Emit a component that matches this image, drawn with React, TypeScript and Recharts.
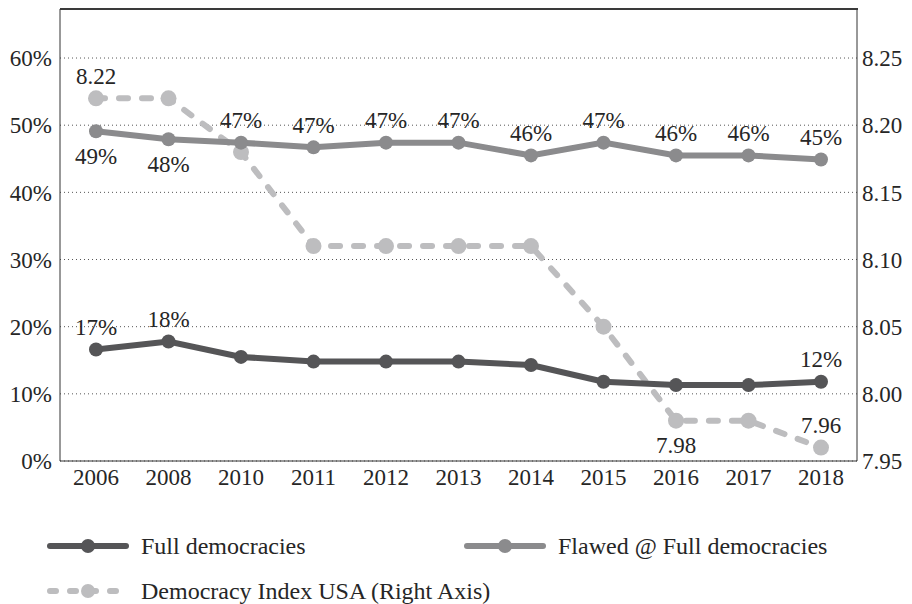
import { LineChart, Line, XAxis, YAxis, CartesianGrid, Legend } from 'recharts';

const years = ['2006', '2008', '2010', '2011', '2012', '2013', '2014', '2015', '2016', '2017', '2018'];
const fullDemocracies = [0.166, 0.178, 0.155, 0.148, 0.148, 0.148, 0.143, 0.118, 0.113, 0.113, 0.118];
const flawedFull = [0.491, 0.479, 0.474, 0.467, 0.474, 0.474, 0.455, 0.474, 0.455, 0.455, 0.449];
const indexUSA = [8.22, 8.22, 8.18, 8.11, 8.11, 8.11, 8.11, 8.05, 7.98, 7.98, 7.96];

const leftTicks = [0, 0.1, 0.2, 0.3, 0.4, 0.5, 0.6];
const rightTicks = [7.95, 8.0, 8.05, 8.1, 8.15, 8.2, 8.25];

// which points carry a label, and whether it sits above or below
const fullLabels: Record<number, 'up' | 'down'> = { 0: 'up', 1: 'up', 10: 'up' };
const flawedLabels: Record<number, 'up' | 'down'> = {
  0: 'down', 1: 'down', 2: 'up', 3: 'up', 4: 'up', 5: 'up', 6: 'up', 7: 'up', 8: 'up', 9: 'up', 10: 'up',
};
const indexLabels: Record<number, 'up' | 'down'> = { 0: 'up', 8: 'down', 10: 'up' };

const data = years.map((year, i) => ({
  year,
  full: fullDemocracies[i],
  flawed: flawedFull[i],
  usa: indexUSA[i],
}));

const FONT = 'Liberation Serif, Times New Roman, DejaVu Serif, serif';
const TEXT = '#262626';
const C_FULL = '#555557';
const C_FLAWED = '#8b8b8d';
const C_USA = '#bdbdbf';

const pct = (v: number) => `${Math.round(v * 100)}%`;

function makeLabel(which: Record<number, 'up' | 'down'>, fmt: (v: number) => string) {
  return (props: any) => {
    const { x, y, index, value } = props;
    const pos = which[index];
    if (!pos) return null;
    const dy = pos === 'up' ? -22 : 25;
    return (
      <text
        key={index}
        x={x}
        y={y + dy}
        textAnchor="middle"
        dominantBaseline="central"
        style={{ fontSize: 23, fontFamily: FONT }}
        fill={TEXT}
      >
        {fmt(value)}
      </text>
    );
  };
}

function LegendIcon({ color, dashed }: { color: string; dashed?: boolean }) {
  return (
    <svg width={84} height={20} style={{ display: 'block' }}>
      <line
        x1={4}
        y1={10}
        x2={80}
        y2={10}
        stroke={color}
        strokeWidth={6}
        strokeLinecap="round"
        strokeDasharray={dashed ? '6 14' : undefined}
      />
      <circle cx={42} cy={10} r={7} fill={color} />
    </svg>
  );
}

function CustomLegend() {
  const item = (left: number, top: number, color: string, label: string, dashed?: boolean) => (
    <div style={{ position: 'absolute', left, top, display: 'flex', alignItems: 'center' }}>
      <LegendIcon color={color} dashed={dashed} />
      <span style={{ marginLeft: 11, fontSize: 24, fontFamily: FONT, color: TEXT, lineHeight: '24px' }}>{label}</span>
    </div>
  );
  return (
    <div style={{ position: 'relative', width: 904, height: 103 }}>
      {item(38, 33, C_FULL, 'Full democracies')}
      {item(455, 33, C_FLAWED, 'Flawed @ Full democracies')}
      {item(38, 78, C_USA, 'Democracy Index USA (Right Axis)', true)}
    </div>
  );
}

export default function App() {
  const tick = { fill: TEXT, style: { fontSize: 23, fontFamily: FONT } };
  return (
    <div style={{ position: 'relative', width: 904, height: 596, fontFamily: FONT }}>
      <LineChart width={904} height={596} data={data} margin={{ top: 1, right: 0, left: 0, bottom: 0 }}>
        <CartesianGrid yAxisId="left" vertical={false} stroke="#555" strokeDasharray="1 3" />
        <XAxis
          dataKey="year"
          height={40}
          padding={{ left: 36, right: 36 }}
          tickLine={false}
          axisLine={{ stroke: '#333' }}
          tick={tick}
          interval={0}
        />
        <YAxis
          yAxisId="left"
          width={52}
          domain={[0, 0.673]}
          ticks={leftTicks}
          tickFormatter={pct}
          tickLine={false}
          axisLine={{ stroke: '#333' }}
          tick={tick}
        />
        <YAxis
          yAxisId="right"
          orientation="right"
          width={55}
          domain={[7.95, 8.2865]}
          ticks={rightTicks}
          tickFormatter={(v: number) => v.toFixed(2)}
          tickLine={false}
          tickSize={3}
          axisLine={{ stroke: '#333' }}
          tick={tick}
        />
        <Legend verticalAlign="bottom" content={<CustomLegend />} wrapperStyle={{ left: 0, bottom: 0, width: 904, height: 103 }} />
        <Line
          yAxisId="right"
          dataKey="usa"
          stroke={C_USA}
          strokeWidth={6}
          strokeDasharray="9 14"
          strokeLinecap="round"
          dot={{ r: 8, fill: C_USA, stroke: C_USA, strokeWidth: 0 }}
          activeDot={false}
          label={makeLabel(indexLabels, (v) => v.toFixed(2))}
          isAnimationActive={false}
        />
        <Line
          yAxisId="left"
          dataKey="flawed"
          stroke={C_FLAWED}
          strokeWidth={6}
          dot={{ r: 7, fill: C_FLAWED, stroke: C_FLAWED, strokeWidth: 0 }}
          activeDot={false}
          label={makeLabel(flawedLabels, pct)}
          isAnimationActive={false}
        />
        <Line
          yAxisId="left"
          dataKey="full"
          stroke={C_FULL}
          strokeWidth={6}
          dot={{ r: 7, fill: C_FULL, stroke: C_FULL, strokeWidth: 0 }}
          activeDot={false}
          label={makeLabel(fullLabels, pct)}
          isAnimationActive={false}
        />
      </LineChart>
      {/* top edge of the plot frame */}
      <div style={{ position: 'absolute', left: 52, top: 0, width: 798, height: 0, borderTop: '2px solid #3a3a3a', pointerEvents: 'none', zIndex: 5 }} />
    </div>
  );
}
